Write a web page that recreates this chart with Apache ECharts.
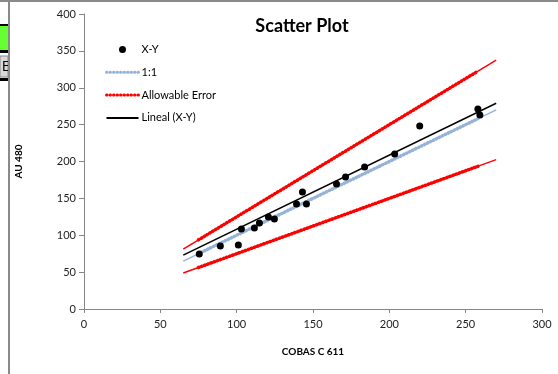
<!DOCTYPE html>
<html><head><meta charset="utf-8">
<script src="https://cdn.jsdelivr.net/npm/echarts@6/dist/echarts.min.js"></script>
<style>html,body{margin:0;padding:0;background:#fff}#c{width:558px;height:374px}</style>
</head><body><div id="c"></div>
<script>
// Data
const xyX = [75.5, 89.3, 101.1, 103.1, 111.6, 114.9, 120.8, 124.7, 139.2, 143.1, 145.7, 165.4, 171.3, 183.8, 203.5, 219.9, 258.0, 259.3];
const xyY = [74.6, 85.4, 86.8, 108.5, 109.8, 116.6, 124.7, 122.0, 142.4, 158.6, 142.4, 169.5, 179.0, 192.5, 210.2, 248.1, 271.2, 263.1];
// 1:1 reference line (full extent and dotted part)
const oneX = [65, 270], oneY = [65, 270];
const oneDotX = [75, 258], oneDotY = [75, 258];
// Allowable error limits
const upX = [65, 270], upY = [81.25, 337.5];
const upDotX = [75, 258], upDotY = [93.75, 322.5];
const loX = [65, 270], loY = [48.75, 202.5];
const loDotX = [75, 258], loDotY = [56.25, 193.5];
// Linear trend line
const fitX = [65, 270], fitY = [73, 279];
const xTicks = [0, 50, 100, 150, 200, 250, 300];
const yTicks = [0, 50, 100, 150, 200, 250, 300, 350, 400];

const zip = (a, b) => a.map((v, i) => [v, b[i]]);
const FONT = 'Lato, "Open Sans", sans-serif';
const blue = '#95B3D7', red = '#FF0000';
const dotStyle = (c) => ({ color: c, width: 3.5, type: [0.5, 2.8], cap: 'round' });
const hideSym = { opacity: 0 };
const legDot = { width: 3, type: [0.5, 3], cap: 'round' };

const chart = echarts.init(document.getElementById('c'), null, { renderer: 'canvas' });
chart.setOption({
  animation: false,
  backgroundColor: '#fff',
  title: { text: 'Scatter Plot', left: 297, textAlign: 'center', top: 12,
    textStyle: { fontFamily: FONT, fontSize: 18, fontWeight: 'bold', color: '#000' } },
  legend: {
    orient: 'vertical', left: 100, top: 39, itemWidth: 32, itemHeight: 7, itemGap: 11.8,
    textStyle: { fontFamily: FONT, fontSize: 11, color: '#000', padding: [0, 0, 0, -2] },
    data: [
      { name: 'X-Y', icon: 'circle', itemStyle: { color: '#000', opacity: 1 } },
      { name: '1:1', itemStyle: hideSym, lineStyle: legDot },
      { name: 'Allowable Error', itemStyle: hideSym, lineStyle: legDot },
      { name: 'Lineal (X-Y)', itemStyle: hideSym, lineStyle: { width: 2 } }
    ]
  },
  grid: { left: 84, right: 16, top: 14, bottom: 65 },
  xAxis: {
    type: 'value', min: 0, max: 300, interval: 50,
    name: 'COBAS C 611', nameLocation: 'middle', nameGap: 38,
    nameTextStyle: { fontFamily: FONT, fontSize: 10, fontWeight: 'bold', color: '#000' },
    axisLine: { lineStyle: { color: '#868686', width: 1 } },
    axisTick: { show: true, length: 4, lineStyle: { color: '#868686' } },
    axisLabel: { fontFamily: FONT, fontSize: 11, color: '#222', margin: 10,
      customValues: xTicks },
    splitLine: { show: false }
  },
  yAxis: {
    type: 'value', min: 0, max: 400, interval: 50,
    name: 'AU 480', nameLocation: 'middle', nameGap: 60, nameRotate: 90,
    nameTextStyle: { fontFamily: FONT, fontSize: 10, fontWeight: 'bold', color: '#000' },
    axisLine: { show: true, lineStyle: { color: '#868686', width: 1 } },
    axisTick: { show: true, length: 5, lineStyle: { color: '#868686' } },
    axisLabel: { fontFamily: FONT, fontSize: 11, color: '#222', margin: 8,
      customValues: yTicks },
    splitLine: { show: false }
  },
  graphic: [
    { type: 'rect', shape: { x: 0, y: 0, width: 558, height: 2 }, style: { fill: '#8a8a8a' }, z: 100 },
    { type: 'rect', shape: { x: 0, y: 24, width: 8, height: 2 }, style: { fill: '#000' }, z: 100 },
    { type: 'rect', shape: { x: 0, y: 26, width: 8, height: 24 }, style: { fill: '#66FF33' }, z: 100 },
    { type: 'rect', shape: { x: 0, y: 50, width: 8, height: 3 }, style: { fill: '#000' }, z: 100 },
    { type: 'rect', shape: { x: 0, y: 56, width: 8, height: 21 }, style: { fill: '#D9D9D9', stroke: '#888', lineWidth: 1 }, z: 100 },
    { type: 'text', x: 2, y: 60, style: { text: 'E', fontFamily: FONT, fontSize: 13, fill: '#000' }, z: 101 },
    { type: 'rect', shape: { x: 0, y: 78, width: 8, height: 3 }, style: { fill: '#000' }, z: 100 },
    { type: 'rect', shape: { x: 8, y: 0, width: 2, height: 374 }, style: { fill: '#8a8a8a' }, z: 102 }
  ],
  series: [
    { name: 'X-Y', type: 'scatter', data: zip(xyX, xyY), symbol: 'circle', symbolSize: 7,
      itemStyle: { color: '#000', opacity: 1 }, z: 10 },
    { name: '1:1', type: 'line', data: zip(oneDotX, oneDotY), symbol: 'none',
      lineStyle: dotStyle(blue), z: 3 },
    { name: '1:1', type: 'line', data: zip(oneX, oneY), symbol: 'none',
      lineStyle: { color: blue, width: 1.5 }, z: 3 },
    { name: 'Allowable Error', type: 'line', data: zip(upDotX, upDotY), symbol: 'none',
      lineStyle: dotStyle(red), z: 3 },
    { name: 'Allowable Error', type: 'line', data: zip(upX, upY), symbol: 'none',
      lineStyle: { color: red, width: 1.5 }, z: 3 },
    { name: 'Allowable Error', type: 'line', data: zip(loDotX, loDotY), symbol: 'none',
      lineStyle: dotStyle(red), z: 3 },
    { name: 'Allowable Error', type: 'line', data: zip(loX, loY), symbol: 'none',
      lineStyle: { color: red, width: 1.5 }, z: 3 },
    { name: 'Lineal (X-Y)', type: 'line', data: zip(fitX, fitY), symbol: 'none',
      lineStyle: { color: '#000', width: 1.5 }, z: 5 }
  ]
});
</script></body></html>
